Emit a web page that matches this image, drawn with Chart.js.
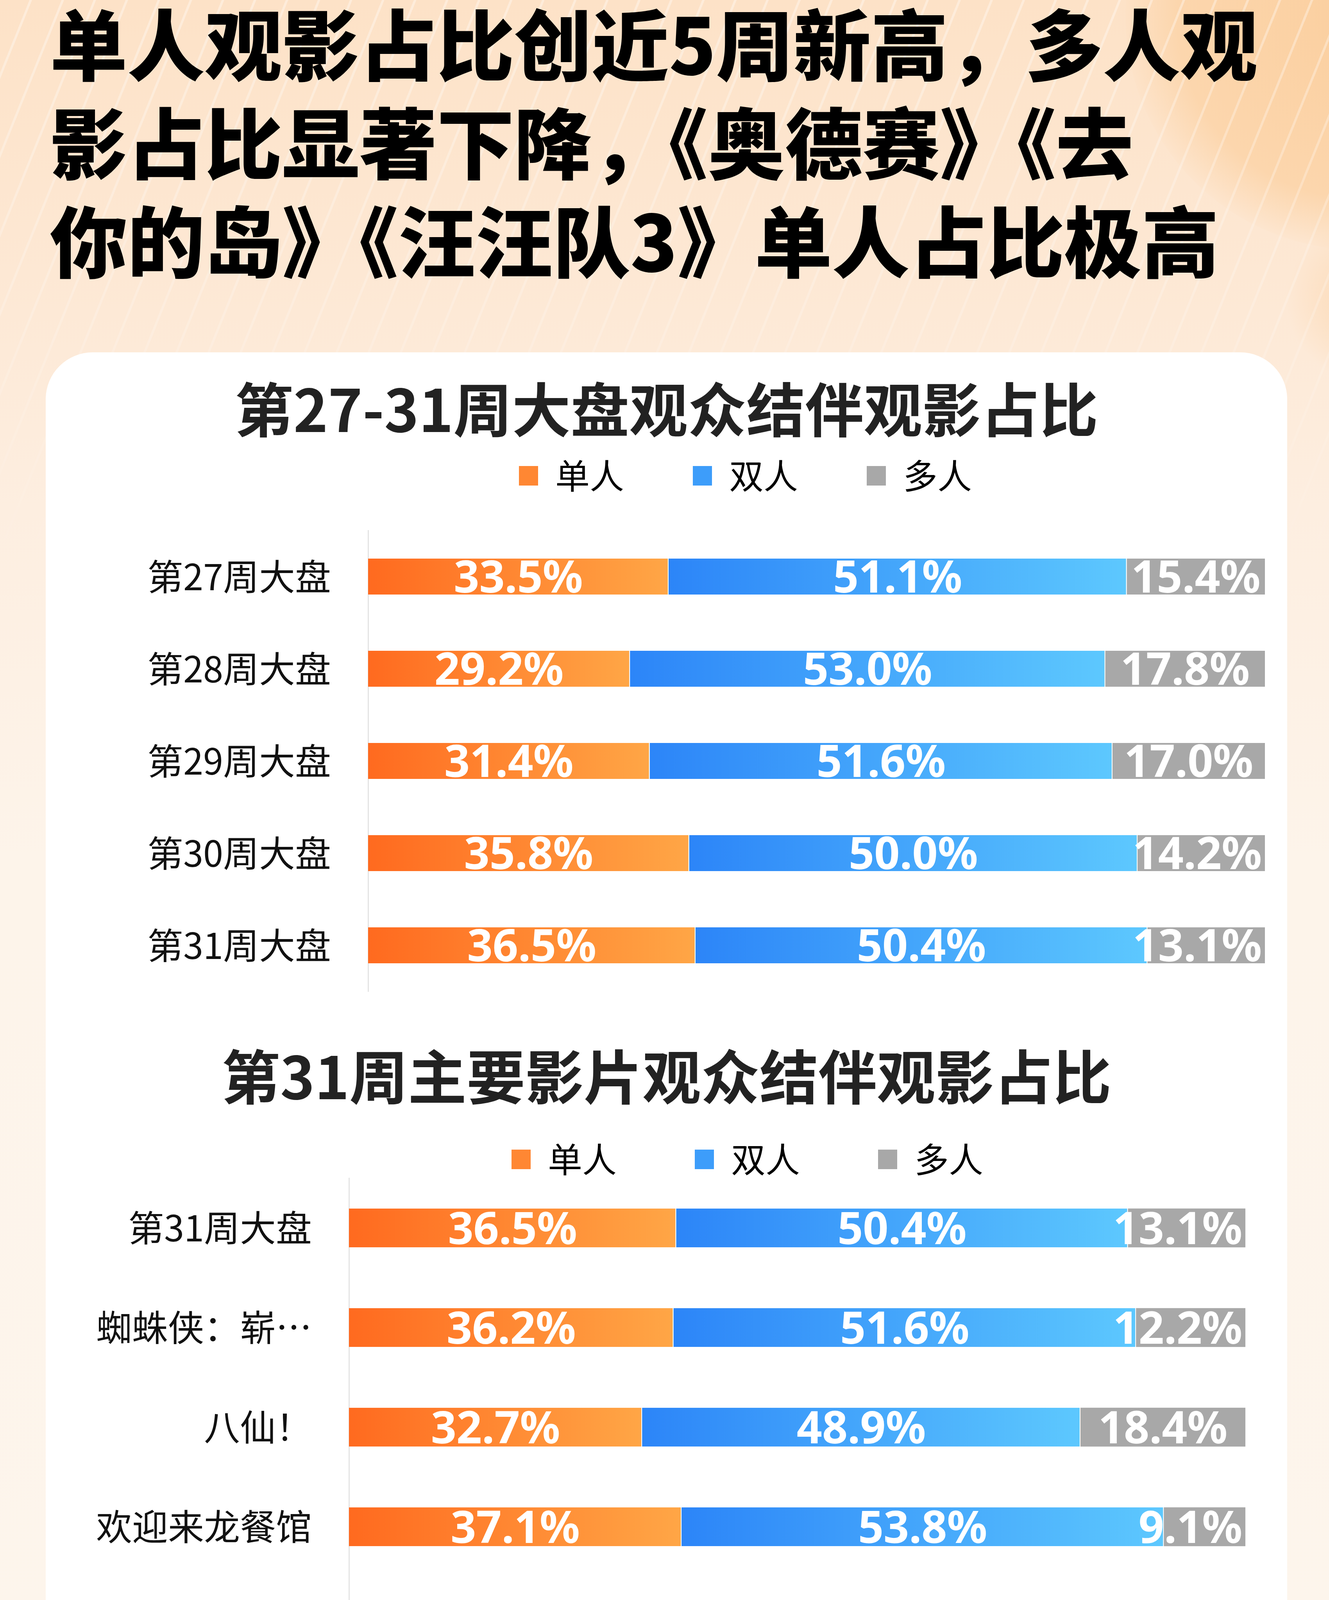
<!DOCTYPE html>
<html lang="zh-CN">
<head>
<meta charset="utf-8">
<title>观众结伴观影占比</title>
<script src="https://cdn.jsdelivr.net/npm/chart.js@4.4.1/dist/chart.umd.min.js"></script>
<style>
  html, body { margin: 0; padding: 0; }
  body { width: 3401px; height: 6429px; overflow: hidden; }
  #page {
    position: relative; width: 3401px; height: 6429px; overflow: hidden;
    background: linear-gradient(180deg, #fde2c7 0px, #fde8d4 700px, #fdeee0 1300px, #fdf4ea 2200px, #fdf6ee 6429px);
    font-family: 'Noto Sans CJK SC', 'Noto Sans', sans-serif;
  }
  .blob { position: absolute; border-radius: 50%; }
  #blobA { left: 2880px; top: -560px; width: 1200px; height: 1200px; background: radial-gradient(circle, #fbcf9f 0%, #fcd6ad 55%, rgba(252,214,173,0) 72%); }
  #blobB { left: 3290px; top: 560px; width: 420px; height: 420px; background: radial-gradient(circle, #fcd8b2 0%, rgba(252,216,178,0) 70%); }
  #rays {
    position: absolute; left: 0; top: 0; width: 3401px; height: 1500px;
    background: repeating-linear-gradient(112deg, rgba(255,255,255,0) 0px, rgba(255,255,255,0) 70px, rgba(255,255,255,0.35) 70px, rgba(255,255,255,0.35) 76px);
    -webkit-mask-image: linear-gradient(180deg, #000 0%, rgba(0,0,0,0.6) 50%, rgba(0,0,0,0) 100%);
    mask-image: linear-gradient(180deg, #000 0%, rgba(0,0,0,0.6) 50%, rgba(0,0,0,0) 100%);
  }
  #headline {
    position: absolute; left: 128px; top: -21px;
    font-size: 198px; line-height: 252px; font-weight: 900; color: #000;
    white-space: nowrap;
  }
  #card {
    position: absolute; left: 117px; top: 902px; width: 3177px; height: 5009px;
    background: #fff; border-radius: 120px;
  }
  .chart-box { position: absolute; left: 117px; width: 3177px; }
  #box1 { top: 902px; height: 1658px; }
  #box2 { top: 2560px; height: 3340px; }
  .foot { position: absolute; left: 126px; font-size: 106px; line-height: 106px; color: #5a5a5a; white-space: nowrap; }
  #asof1 { top: 6107px; }
  #asof2 { top: 6289px; }
  #brand { position: absolute; left: 1295px; top: 6148px; height: 180px; }
  #brand svg { position: absolute; left: 0; top: 0; }
  #brand span {
    position: absolute; left: 217px; top: 28px; font-size: 117px; line-height: 117px;
    color: #ff6a1f; white-space: nowrap;
  }
</style>
</head>
<body>
<div id="page">
  <div class="blob" id="blobA"></div>
  <div class="blob" id="blobB"></div>
  <div id="rays"></div>
  <div id="headline">
    <div>单人观影占比创近5周新高，多人观</div>
    <div>影占比显著下降，《奥德赛》《去</div>
    <div>你的岛》《汪汪队3》单人占比极高</div>
  </div>
  <div id="card"></div>
  <div class="chart-box" id="box1"><canvas id="weekChart"></canvas></div>
  <div class="chart-box" id="box2"><canvas id="filmChart"></canvas></div>
  <div class="foot" id="asof1">统计截至时间</div>
  <div class="foot" id="asof2">2026年8月10日</div>
  <div id="brand">
    <svg width="178" height="180" viewBox="0 0 100 101">
      <defs><clipPath id="logoClip"><rect x="0" y="0" width="100" height="101" rx="27"/></clipPath></defs>
      <rect x="0" y="0" width="100" height="101" rx="27" fill="#ff6a1f"/>
      <g clip-path="url(#logoClip)">
        <polygon points="50.5,15 58,21.5 65,25 65,38 36,38 36,25 43,21.5" fill="#fff"/>
        <circle cx="50.5" cy="31" r="3.4" fill="#ff6a1f"/>
        <rect x="27" y="38" width="47" height="8.5" fill="#fff"/>
        <polygon points="33,52 68,52 74,101 28,101" fill="#fff"/>
        <polygon points="28,84 72,64 73,72 29,92" fill="#f9a579"/>
        <rect x="38" y="74" width="3.6" height="3.6" fill="#ff6a1f"/>
        <rect x="45" y="71" width="3.6" height="3.6" fill="#ff6a1f"/>
        <rect x="52" y="68" width="3.6" height="3.6" fill="#ff6a1f"/>
        <rect x="59" y="65" width="3.6" height="3.6" fill="#ff6a1f"/>
        <rect x="40" y="94" width="3.6" height="3.6" fill="#ff6a1f"/>
        <rect x="47" y="91" width="3.6" height="3.6" fill="#ff6a1f"/>
        <rect x="54" y="88" width="3.6" height="3.6" fill="#ff6a1f"/>
        <rect x="61" y="85" width="3.6" height="3.6" fill="#ff6a1f"/>
      </g>
    </svg>
    <span>灯塔专业版</span>
  </div>
</div>

<script>
const seriesNames = ['单人', '双人', '多人'];

const weekLabels = ['第27周大盘', '第28周大盘', '第29周大盘', '第30周大盘', '第31周大盘'];
const weekSolo = [33.5, 29.2, 31.4, 35.8, 36.5];
const weekPair = [51.1, 53.0, 51.6, 50.0, 50.4];
const weekGroup = [15.4, 17.8, 17.0, 14.2, 13.1];

const filmLabels = ['第31周大盘', '蜘蛛侠：崭…', '八仙！', '欢迎来龙餐馆', '功夫女足', '年会不能停！…', '痴迷', '去你的岛', '奥德赛', '汪汪队立大…', '想你了'];
const filmSolo = [36.5, 36.2, 32.7, 37.1, 31.0, 37.6, 31.4, 45.6, 46.2, 54.7, 30.6];
const filmPair = [50.4, 51.6, 48.9, 53.8, 49.0, 53.5, 58.8, 48.8, 46.7, 36.5, 60.2];
const filmGroup = [13.1, 12.2, 18.4, 9.1, 20.0, 8.9, 9.8, 5.6, 7.1, 8.8, 9.2];

const CJK = "'Noto Sans CJK SC', 'Noto Sans', sans-serif";
Chart.defaults.font.family = CJK;

// left -> right colours of each segment
const fillStops = [['#ff6a1f', '#ffa646'], ['#2c85f8', '#5dc8fe'], ['#a8a8a8']];
const legendColors = ['#ff8733', '#3d9dfa', '#a8a8a8'];

function segmentFill(c) {
  const stops = fillStops[c.datasetIndex];
  const chart = c.chart;
  const xScale = chart.scales && chart.scales.x;
  if (stops.length === 1 || c.type !== 'data' || !xScale) return stops[0];
  let start = 0;
  for (let j = 0; j < c.datasetIndex; j++) start += chart.data.datasets[j].data[c.dataIndex];
  const end = start + chart.data.datasets[c.datasetIndex].data[c.dataIndex];
  const g = chart.ctx.createLinearGradient(xScale.getPixelForValue(start), 0, xScale.getPixelForValue(end), 0);
  g.addColorStop(0, stops[0]);
  g.addColorStop(1, stops[1]);
  return g;
}

// white percentage text in the middle of every segment, kept inside the bar end
const barLabels = {
  id: 'barLabels',
  afterDatasetsDraw(chart, args, opts) {
    const { ctx, chartArea } = chart;
    ctx.save();
    ctx.font = 'bold ' + opts.size + "px 'Noto Sans', sans-serif";
    ctx.fillStyle = '#fff';
    ctx.textAlign = 'left';
    ctx.textBaseline = 'alphabetic';
    chart.data.datasets.forEach((ds, i) => {
      chart.getDatasetMeta(i).data.forEach((bar, j) => {
        const text = ds.data[j].toFixed(1) + '%';
        const w = ctx.measureText(text).width;
        let x = (bar.x + bar.base) / 2 - w / 2;
        x = Math.min(x, chartArea.right - opts.inset - w);
        ctx.fillText(text, x, bar.y + opts.size * 0.36);
      });
    });
    ctx.restore();
  }
};

// moves the legend row without changing the plot area,
// and lets long category names use the left padding instead of being clipped
const layoutTweaks = {
  id: 'layoutTweaks',
  afterLayout(chart, args, opts) {
    const lg = chart.legend;
    if (lg) {
      lg.left += opts.dx; lg.right += opts.dx;
      lg.top += opts.dy; lg.bottom += opts.dy;
    }
    const ys = chart.scales.y;
    if (ys) ys.left = 0;
  }
};

function makeChart(id, labels, solo, pair, group, o) {
  const values = [solo, pair, group];
  const datasets = seriesNames.map((name, i) => ({
    label: name,
    data: values[i],
    backgroundColor: segmentFill,
    borderColor: 'rgba(255,255,255,0.95)',
    borderWidth: i < 2 ? { top: 0, bottom: 0, left: 0, right: 2 } : 0,
    borderSkipped: false,
    barPercentage: 0.39,
    categoryPercentage: 1
  }));

  return new Chart(document.getElementById(id), {
    type: 'bar',
    data: { labels: labels, datasets: datasets },
    options: {
      indexAxis: 'y',
      responsive: true,
      maintainAspectRatio: false,
      animation: false,
      events: [],
      layout: { padding: { left: o.side, right: o.side, top: 0, bottom: o.bottom } },
      scales: {
        x: { stacked: true, min: 0, max: 100, display: false },
        y: {
          stacked: true,
          grid: { color: 'rgba(0,0,0,0)', drawTicks: false },
          border: { display: true, color: '#e4e4e4', width: 3 },
          ticks: { color: '#111', padding: 95, font: { size: 92 } },
          afterFit(scale) {
            scale.width = o.axisWidth;
            scale.paddingTop = 0;
            scale.paddingBottom = 0;
          }
        }
      },
      plugins: {
        title: {
          display: true,
          text: o.title,
          color: '#222',
          font: { size: 150, weight: 'bold' },
          padding: { top: o.titleTop, bottom: o.titleBottom }
        },
        legend: {
          position: 'top',
          labels: {
            boxWidth: 49,
            boxHeight: 50,
            padding: o.legendGap,
            color: '#111',
            font: { size: 88 },
            generateLabels: (chart) => chart.data.datasets.map((ds, i) => ({
              text: ds.label,
              fillStyle: legendColors[i],
              strokeStyle: legendColors[i],
              lineWidth: 0,
              hidden: false,
              datasetIndex: i
            }))
          }
        },
        tooltip: { enabled: false },
        layoutTweaks: { dx: o.dx, dy: o.dy },
        barLabels: { size: 114, inset: 8 }
      }
    },
    plugins: [layoutTweaks, barLabels]
  });
}

makeChart('weekChart', weekLabels, weekSolo, weekPair, weekGroup, {
  title: '第27-31周大盘观众结伴观影占比',
  side: 57, bottom: 22, axisWidth: 768,
  titleTop: 57, titleBottom: -55,
  legendGap: 176, dx: 202, dy: -86
});

makeChart('filmChart', filmLabels, filmSolo, filmPair, filmGroup, {
  title: '第31周主要影片观众结伴观影占比',
  side: 107, bottom: 79, axisWidth: 669,
  titleTop: 107, titleBottom: -129,
  legendGap: 200, dx: 207, dy: 6
});
</script>
</body>
</html>
